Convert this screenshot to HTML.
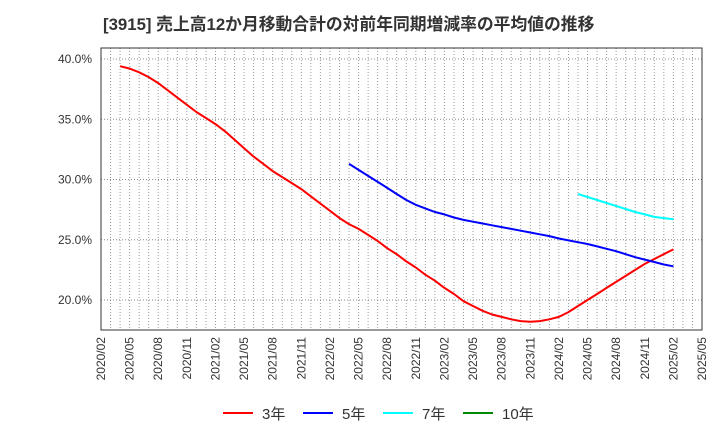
<!DOCTYPE html>
<html><head><meta charset="utf-8"><style>
body{margin:0;background:#fff;width:720px;height:440px;overflow:hidden;font-family:"Liberation Sans","Noto Sans CJK JP",sans-serif}
</style></head><body>
<svg id="chart" width="720" height="440" xmlns="http://www.w3.org/2000/svg" font-family="Liberation Sans, Noto Sans CJK JP, sans-serif">
<text x="103" y="30" font-size="16.8" font-weight="bold" fill="#333">[3915]  売上高12か月移動合計の対前年同期増減率の平均値の推移</text>
<g id="grid"></g><g id="axes"></g><g id="series"></g>
<g font-size="15" fill="#333">
<g><line x1="223" y1="413" x2="253" y2="413" stroke="#f00" stroke-width="2"/><text x="262" y="419">3年</text></g>
<g><line x1="303" y1="413" x2="333" y2="413" stroke="#00f" stroke-width="2"/><text x="342" y="419">5年</text></g>
<g><line x1="383" y1="413" x2="413" y2="413" stroke="#0ff" stroke-width="2"/><text x="422" y="419">7年</text></g>
<g><line x1="463" y1="413" x2="493" y2="413" stroke="#080" stroke-width="2"/><text x="502" y="419">10年</text></g>
</g>
</svg>
<script>
const xTickLabels=["2020/02","2020/05","2020/08","2020/11","2021/02","2021/05","2021/08","2021/11","2022/02","2022/05","2022/08","2022/11","2023/02","2023/05","2023/08","2023/11","2024/02","2024/05","2024/08","2024/11","2025/02","2025/05"];
const yTicks=[20,25,30,35,40];
const red3Start=2; // months after 2020/02
const red3=[39.4,39.2,38.9,38.5,38.0,37.4,36.8,36.2,35.6,35.1,34.6,34.0,33.3,32.6,31.9,31.3,30.7,30.2,29.7,29.2,28.6,28.0,27.4,26.8,26.3,25.9,25.4,24.9,24.3,23.8,23.2,22.7,22.1,21.6,21.0,20.5,19.9,19.5,19.1,18.8,18.6,18.4,18.25,18.2,18.25,18.4,18.6,19.0,19.5,20.0,20.5,21.0,21.5,22.0,22.5,23.0,23.4,23.8,24.2];
const blue5Start=26;
const blue5=[31.3,30.8,30.3,29.8,29.3,28.8,28.3,27.9,27.6,27.3,27.1,26.85,26.65,26.5,26.35,26.2,26.05,25.9,25.75,25.6,25.45,25.3,25.1,24.95,24.8,24.65,24.45,24.25,24.05,23.8,23.55,23.35,23.15,22.95,22.8];
const cyan7Start=50;
const cyan7=[28.8,28.55,28.3,28.05,27.8,27.55,27.3,27.1,26.9,26.8,26.7];
const L=101,R=702,T=48,B=330,NM=63;
const NS="http://www.w3.org/2000/svg";
const xs=m=>L+m*(R-L)/NM;
const ys=v=>300+(20-v)*(300-59)/20;
function mk(t,a,p){const e=document.createElementNS(NS,t);for(const k in a)e.setAttribute(k,a[k]);p.appendChild(e);return e;}
const grid=document.getElementById('grid'),axes=document.getElementById('axes'),ser=document.getElementById('series');
for(let m=1;m<NM;m++){const l=mk('line',{x1:xs(m),x2:xs(m),y1:T,y2:B,stroke:'#999','stroke-dasharray':'1,2','stroke-width':1},grid);

}
yTicks.forEach(v=>{const l=mk('line',{x1:L,x2:R,y1:ys(v),y2:ys(v),stroke:'#888','stroke-dasharray':'1,2'},grid);


const t=mk('text',{x:L-9,y:ys(v)+4,'text-anchor':'end','font-size':12,fill:'#333'},axes);t.textContent=v.toFixed(1)+'%';

});
xTickLabels.forEach((s,i)=>{const x=xs(i*3)+4;const t=mk('text',{x:x,y:337,transform:`rotate(-90 ${x} 337)`,'text-anchor':'end','font-size':12,fill:'#333'},axes);t.textContent=s;

});
const fr=mk('rect',{x:L,y:T,width:R-L,height:B-T,fill:'none',stroke:'#333','stroke-width':1},axes);


function line(arr,start,color,name){const d=arr.map((v,i)=>(i?'L':'M')+xs(start+i).toFixed(1)+','+ys(v).toFixed(1)).join('');
const p=mk('path',{d:d,fill:'none',stroke:color,'stroke-width':2,'stroke-linejoin':'round'},ser);

}
line(red3,red3Start,'#f00','series-3y-line');
line(blue5,blue5Start,'#00f','series-5y-line');
line(cyan7,cyan7Start,'#0ff','series-7y-line');
</script>
</body></html>
